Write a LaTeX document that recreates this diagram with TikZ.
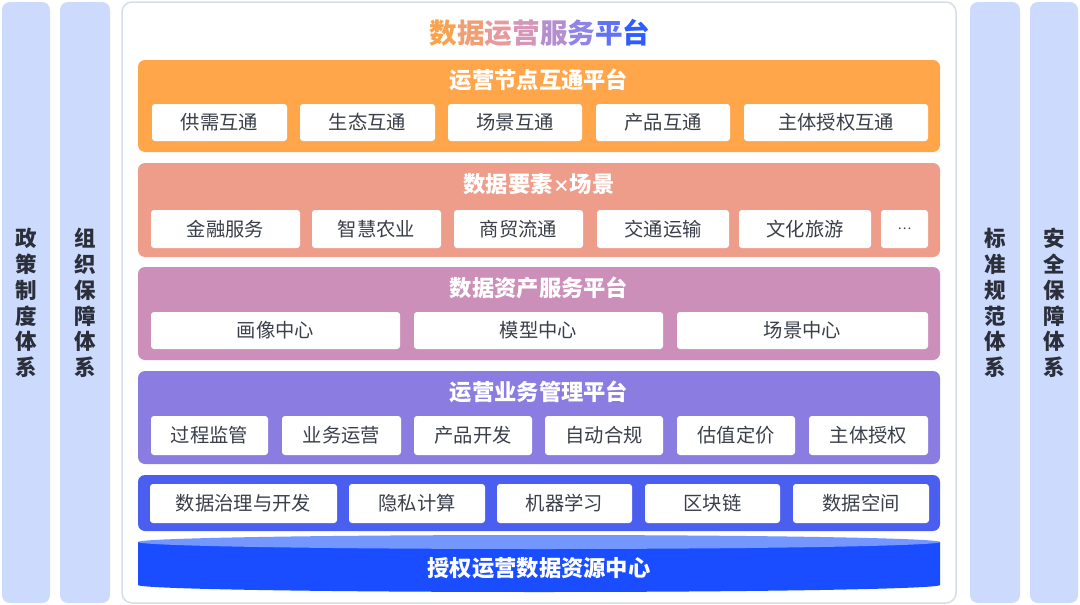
\documentclass[tikz,border=0pt]{standalone}
\usepackage{fontspec}
\setmainfont{Noto Sans CJK SC}
\definecolor{sidec}{HTML}{CCDAFD}
\definecolor{framec}{HTML}{D6DCE8}
\definecolor{orangec}{HTML}{FFA54A}
\definecolor{salmonc}{HTML}{EE9D8A}
\definecolor{pinkc}{HTML}{CC8FB9}
\definecolor{purplec}{HTML}{8B7CE1}
\definecolor{bluec}{HTML}{4A5FF0}
\definecolor{cylc}{HTML}{1A4DFF}
\definecolor{cyltop}{HTML}{7396FF}
\definecolor{itemtxt}{HTML}{3A3F4B}
\definecolor{sidetxt}{HTML}{2B2F3A}
\definecolor{t1}{HTML}{F9A24E}
\definecolor{t2}{HTML}{F19E73}
\definecolor{t3}{HTML}{E79A9C}
\definecolor{t4}{HTML}{D596B8}
\definecolor{t5}{HTML}{B58ECF}
\definecolor{t6}{HTML}{9084E6}
\definecolor{t7}{HTML}{6172F4}
\definecolor{t8}{HTML}{2E5CFF}
\tikzset{
  sidebox/.style={fill=sidec, rounded corners=8pt},
  layer/.style={rounded corners=7pt},
  item/.style={fill=white, rounded corners=3pt, inner sep=0pt, text=itemtxt, font=\fontsize{19.3}{19.3}\selectfont},
  ltitle/.style={text=white, font=\fontsize{22.3}{22.3}\selectfont\bfseries},
  sidelabel/.style={text=sidetxt, align=center, font=\fontsize{21.5}{25.8}\selectfont\bfseries}
}
\begin{document}
\begin{tikzpicture}[x=1pt,y=-1pt]
\useasboundingbox (0,0) rectangle (1080,605);
\fill[white] (0,0) rectangle (1080,605);
% side columns
\fill[sidebox] (2,2) rectangle (50,603);
\fill[sidebox] (60,2) rectangle (110,603);
\fill[sidebox] (970,2) rectangle (1020,603);
\fill[sidebox] (1030,2) rectangle (1078,603);
\node[sidelabel] (s1) at (26,303) {政\\策\\制\\度\\体\\系};
\node[sidelabel] (s2) at (85,303) {组\\织\\保\\障\\体\\系};
\node[sidelabel] (s3) at (995,303) {标\\准\\规\\范\\体\\系};
\node[sidelabel] (s4) at (1054,303) {安\\全\\保\\障\\体\\系};
% main frame
\draw[framec, line width=1.5pt, fill=white, rounded corners=10pt] (122,2) rectangle (956,603);
\node[font=\fontsize{27.6}{27.6}\selectfont\bfseries] (title) at (540,33) {\textcolor{t1}{数}\textcolor{t2}{据}\textcolor{t3}{运}\textcolor{t4}{营}\textcolor{t5}{服}\textcolor{t6}{务}\textcolor{t7}{平}\textcolor{t8}{台}};
% layer 1
\fill[layer, orangec] (138,60) rectangle (940,152);
\node[ltitle] (l1) at (539,80) {运营节点互通平台};
\node[item, minimum width=135, minimum height=37] (a1) at (219.5,122.5) {供需互通};
\node[item, minimum width=135, minimum height=37] (a2) at (367.5,122.5) {生态互通};
\node[item, minimum width=134, minimum height=37] (a3) at (515,122.5) {场景互通};
\node[item, minimum width=134, minimum height=37] (a4) at (663,122.5) {产品互通};
\node[item, minimum width=184, minimum height=37] (a5) at (836,122.5) {主体授权互通};
% layer 2
\fill[layer, salmonc] (138,163) rectangle (940,257);
\node[ltitle] (l2) at (539,184) {数据要素{\fontsize{17}{17}\selectfont ×}场景};
\node[item, minimum width=149, minimum height=38] (b1) at (225.5,229) {金融服务};
\node[item, minimum width=129, minimum height=38] (b2) at (376.5,229) {智慧农业};
\node[item, minimum width=129, minimum height=38] (b3) at (518.5,229) {商贸流通};
\node[item, minimum width=132, minimum height=38] (b4) at (663,229) {交通运输};
\node[item, minimum width=132, minimum height=38] (b5) at (805,229) {文化旅游};
\node[item, minimum width=47, minimum height=38, font=\fontsize{13}{13}\selectfont] (b6) at (904.5,229) {…};
% layer 3
\fill[layer, pinkc] (138,267) rectangle (940,360);
\node[ltitle] (l3) at (539,288) {数据资产服务平台};
\node[item, minimum width=249, minimum height=37] (c1) at (275.5,330.5) {画像中心};
\node[item, minimum width=249, minimum height=37] (c2) at (538.5,330.5) {模型中心};
\node[item, minimum width=251, minimum height=37] (c3) at (802.5,330.5) {场景中心};
% layer 4
\fill[layer, purplec] (138,371) rectangle (940,464);
\node[ltitle] (l4) at (539,392) {运营业务管理平台};
\node[item, minimum width=117, minimum height=39] (d1) at (209.5,435.5) {过程监管};
\node[item, minimum width=119, minimum height=39] (d2) at (341.5,435.5) {业务运营};
\node[item, minimum width=118, minimum height=39] (d3) at (473,435.5) {产品开发};
\node[item, minimum width=118, minimum height=39] (d4) at (604,435.5) {自动合规};
\node[item, minimum width=118, minimum height=39] (d5) at (736,435.5) {估值定价};
\node[item, minimum width=119, minimum height=39] (d6) at (868.5,435.5) {主体授权};
% layer 5
\fill[layer, bluec] (138,475) rectangle (940,531);
\node[item, minimum width=187, minimum height=39] (e1) at (243.5,503.5) {数据治理与开发};
\node[item, minimum width=136, minimum height=39] (e2) at (417,503.5) {隐私计算};
\node[item, minimum width=135, minimum height=39] (e3) at (564.5,503.5) {机器学习};
\node[item, minimum width=135, minimum height=39] (e4) at (712.5,503.5) {区块链};
\node[item, minimum width=136, minimum height=39] (e5) at (861,503.5) {数据空间};
% cylinder
\fill[cylc] (138,542) -- (138,585) arc[start angle=180, end angle=0, x radius=401, y radius=7] -- (940,542) -- cycle;
\fill[cyltop] (539,542) ellipse[x radius=401, y radius=7];
\node[ltitle] (cyl) at (539,568) {授权运营数据资源中心};
\end{tikzpicture}
\end{document}
